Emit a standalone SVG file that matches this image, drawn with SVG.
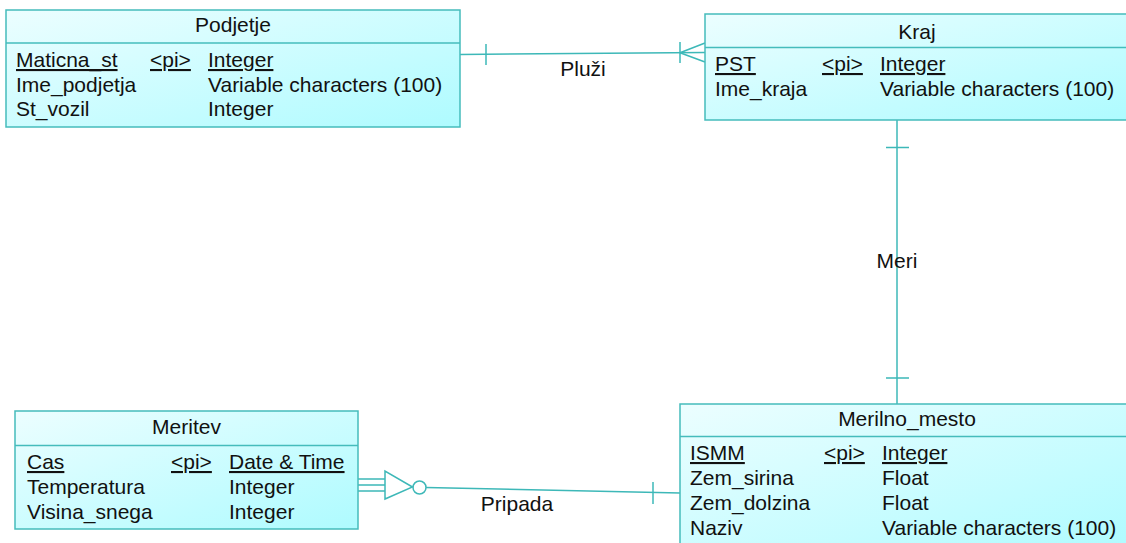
<svg xmlns="http://www.w3.org/2000/svg" width="1126" height="543" viewBox="0 0 1126 543">
<defs>
<linearGradient id="fill" x1="0" y1="0" x2="1" y2="1">
<stop offset="0" stop-color="#ECFEFF"/>
<stop offset="1" stop-color="#AEFBFF"/>
</linearGradient>
</defs>
<style>
.box{fill:url(#fill);stroke:#45BCBC;stroke-width:1.5}
.div{stroke:#45BCBC;stroke-width:1.5}
.ln{stroke:#3DB8B8;stroke-width:1.5;fill:none}
text{font-family:"Liberation Sans",Arial,sans-serif;font-size:21px;fill:#111}
.t{text-anchor:middle}
.u{text-decoration:underline}
.lbl{text-anchor:middle;fill:#111}
</style>
<rect width="1126" height="543" fill="#fff"/>
<g id="connectors">
<path class="ln" d="M460,54.5 L705,52.5"/>
<path class="ln" d="M486,44 V65"/>
<path class="ln" d="M680,42 V63"/>
<path class="ln" d="M680,52.7 L705,43 M680,52.7 L705,62"/>
<text class="lbl" x="583" y="76">Pluži</text>
<path class="ln" d="M897,120 V404"/>
<path class="ln" d="M886,147.5 H909 M886,378 H909"/>
<text class="lbl" x="897" y="268">Meri</text>
<path class="ln" d="M358,479 H385 M358,485 H385 M358,491 H385"/>
<path class="ln" d="M385,471 V499 L412.5,487 Z"/>
<circle class="ln" cx="419.5" cy="487.5" r="6.5"/>
<path class="ln" d="M426,487.5 L680,493"/>
<path class="ln" d="M653,482 V504"/>
<text class="lbl" x="517" y="511">Pripada</text>
</g>
<g id="Podjetje">
<rect class="box" x="6" y="10" width="454" height="117"/>
<line class="div" x1="6" y1="43" x2="460" y2="43"/>
<text class="t" x="233" y="32">Podjetje</text>
<text class="u" x="16" y="67">Maticna_st</text>
<text class="u" x="150" y="67">&lt;pi&gt;</text>
<text class="u" x="208" y="67">Integer</text>
<text x="16" y="91.5">Ime_podjetja</text>
<text x="208" y="91.5">Variable characters (100)</text>
<text x="16" y="116">St_vozil</text>
<text x="208" y="116">Integer</text>
</g>
<g id="Kraj">
<rect class="box" x="705" y="14" width="424" height="106"/>
<line class="div" x1="705" y1="47.5" x2="1129" y2="47.5"/>
<text class="t" x="917" y="39">Kraj</text>
<text class="u" x="715" y="71">PST</text>
<text class="u" x="822" y="71">&lt;pi&gt;</text>
<text class="u" x="880" y="71">Integer</text>
<text x="715" y="95.5">Ime_kraja</text>
<text x="880" y="95.5">Variable characters (100)</text>
</g>
<g id="Merilno_mesto">
<rect class="box" x="680" y="404" width="454" height="150"/>
<line class="div" x1="680" y1="436.5" x2="1134" y2="436.5"/>
<text class="t" x="907" y="426">Merilno_mesto</text>
<text class="u" x="690" y="460">ISMM</text>
<text class="u" x="824" y="460">&lt;pi&gt;</text>
<text class="u" x="882" y="460">Integer</text>
<text x="690" y="485">Zem_sirina</text>
<text x="882" y="485">Float</text>
<text x="690" y="510">Zem_dolzina</text>
<text x="882" y="510">Float</text>
<text x="690" y="535">Naziv</text>
<text x="882" y="535">Variable characters (100)</text>
</g>
<g id="Meritev">
<rect class="box" x="15" y="411" width="343" height="118"/>
<line class="div" x1="15" y1="445.5" x2="358" y2="445.5"/>
<text class="t" x="186.5" y="434">Meritev</text>
<text class="u" x="27" y="469">Cas</text>
<text class="u" x="171" y="469">&lt;pi&gt;</text>
<text class="u" x="229" y="469">Date &amp; Time</text>
<text x="27" y="494">Temperatura</text>
<text x="229" y="494">Integer</text>
<text x="27" y="518.5">Visina_snega</text>
<text x="229" y="518.5">Integer</text>
</g>
</svg>
